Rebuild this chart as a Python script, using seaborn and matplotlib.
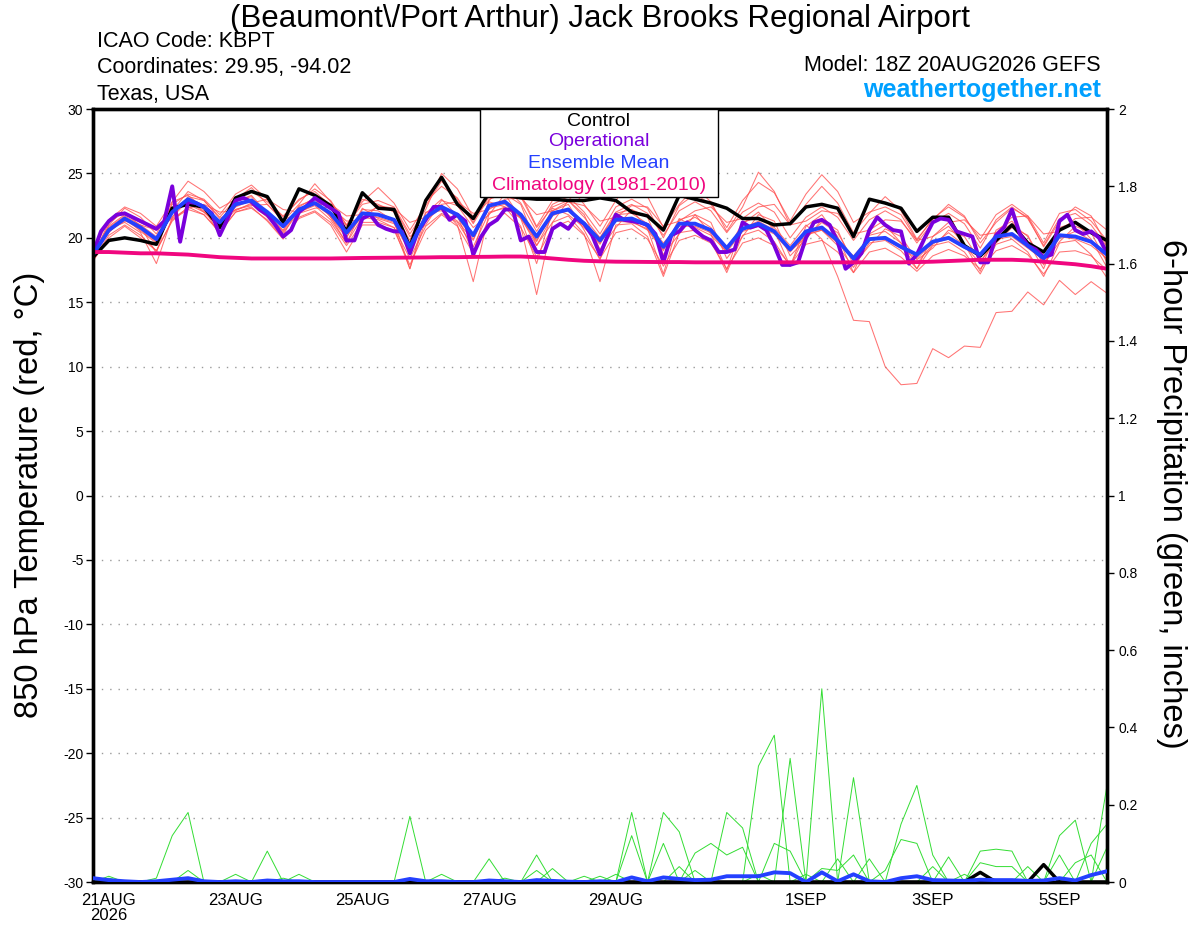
import numpy as np
import pandas as pd
import matplotlib
matplotlib.use("Agg")
import matplotlib.pyplot as plt
import seaborn as sns
from matplotlib.patches import Rectangle

# time axis: 6-hourly GEFS steps, 18Z 20AUG to 18Z 5SEP (operational is 3-hourly)
times = pd.date_range("2026-08-20 18:00", "2026-09-05 18:00", freq="6h")
times_op = pd.date_range("2026-08-20 18:00", "2026-09-05 18:00", freq="3h")

tick_times = pd.to_datetime(["2026-08-21", "2026-08-23", "2026-08-25", "2026-08-27",
                             "2026-08-29", "2026-09-01", "2026-09-03", "2026-09-05"])
tick_labels = ["21AUG\n2026", "23AUG", "25AUG", "27AUG", "29AUG", "1SEP", "3SEP", "5SEP"]

# 850 hPa temperature (C)
control = [
    18.5, 19.8, 20.0, 19.8, 19.5, 22.3, 22.6, 22.4, 20.8, 23.1,
    23.6, 23.2, 21.2, 23.8, 23.3, 22.5, 20.5, 23.5, 22.3, 22.2,
    19.3, 22.9, 24.7, 22.6, 21.5, 23.5, 23.3, 23.1, 23.0, 23.0,
    22.9, 22.9, 23.1, 22.9, 22.0, 21.7, 20.6, 23.3, 23.0, 22.7,
    22.3, 21.5, 21.5, 21.0, 21.1, 22.4, 22.6, 22.3, 20.1, 23.0,
    22.7, 22.3, 20.5, 21.6, 21.6, 19.4, 18.6, 19.8, 21.0, 19.6,
    18.9, 20.6, 21.2, 20.4, 19.8]

ens_mean = [
    18.7, 20.6, 21.5, 20.8, 19.9, 22.0, 23.0, 22.4, 21.2, 22.6,
    22.9, 22.0, 20.9, 22.2, 22.7, 21.9, 20.4, 21.9, 21.8, 21.4,
    19.3, 21.6, 22.4, 21.8, 20.2, 22.5, 22.8, 21.8, 20.1, 21.9,
    22.2, 21.1, 19.8, 21.4, 21.5, 21.0, 19.3, 21.1, 21.1, 20.6,
    19.2, 20.7, 21.1, 20.5, 19.1, 20.5, 20.8, 19.8, 18.4, 19.9,
    20.0, 19.3, 18.7, 19.7, 20.0, 19.3, 18.7, 20.1, 20.3, 19.4,
    18.4, 20.2, 20.1, 19.7, 18.7]

climo = [
    18.9, 18.9, 18.85, 18.8, 18.8, 18.75, 18.7, 18.6, 18.5, 18.45,
    18.4, 18.4, 18.4, 18.4, 18.4, 18.4, 18.42, 18.44, 18.45, 18.46,
    18.47, 18.48, 18.5, 18.5, 18.52, 18.53, 18.55, 18.55, 18.5, 18.4,
    18.3, 18.22, 18.18, 18.15, 18.14, 18.13, 18.12, 18.12, 18.1, 18.1,
    18.1, 18.1, 18.1, 18.1, 18.1, 18.1, 18.1, 18.1, 18.1, 18.1,
    18.1, 18.1, 18.12, 18.15, 18.2, 18.25, 18.3, 18.3, 18.3, 18.25,
    18.15, 18.05, 17.95, 17.8, 17.6]

operational = [
    18.8, 20.5, 21.3, 21.8, 21.9, 21.6, 21.3, 21.0, 20.7, 21.3,
    24.0, 19.7, 22.8, 22.7, 22.4, 21.9, 20.2, 21.5, 22.9, 23.1,
    22.8, 22.2, 21.8, 21.0, 20.1, 20.6, 22.0, 22.5, 23.1, 22.7,
    22.3, 21.9, 19.8,
    19.8, 21.5, 21.8, 21.0, 20.7, 20.5, 20.5, 18.8, 20.5, 21.4,
    22.4, 22.4, 21.4, 21.8, 21.3, 18.7, 20.1, 21.0, 21.4, 22.2,
    22.2, 19.8, 20.1, 18.9, 18.9, 20.7, 21.1, 20.7, 21.5, 21.1,
    20.2, 18.7,
    20.2, 21.8, 21.4, 21.3, 21.2, 21.0, 20.3, 18.1, 20.2, 20.5,
    21.2, 20.6, 20.1, 19.8, 18.9, 18.9, 19.1, 21.2, 20.8, 21.0,
    20.6, 19.4, 17.9, 17.9, 18.1, 20.0, 21.2, 21.4, 21.0, 19.7,
    17.6,
    18.1, 18.8, 20.6, 21.6, 21.0, 20.6, 20.5, 18.0, 18.7, 20.0,
    21.2, 21.5, 21.4, 20.5, 20.3, 20.1, 18.1, 18.1, 20.2, 20.8,
    22.2, 20.3, 19.4, 19.1, 18.5, 18.7, 21.3, 21.8, 20.6, 20.3,
    20.5, 20.0, 18.8]

# ensemble members (red)
m01 = [18.6, 21.0, 22.3, 21.6, 20.3, 22.6, 23.4, 23.0, 21.8, 23.4,
       24.1, 23.0, 21.6, 23.0, 23.6, 22.5, 20.9, 23.0, 22.6, 22.0,
       19.8, 22.8, 24.0, 23.1, 21.2, 23.6, 23.9, 22.7, 20.5, 22.6,
       23.2, 22.0, 20.3, 22.4, 23.0, 22.3, 20.0, 22.5, 23.4, 22.6,
       20.8, 22.9, 24.3, 23.5, 21.3, 23.4, 24.9, 23.6, 21.2, 22.0,
       22.4, 21.8, 19.8, 21.5, 22.4, 21.6, 19.9, 21.8, 22.6, 21.7,
       19.6, 21.9, 22.2, 21.3, 19.8]
m02 = [18.3, 20.2, 21.0, 20.2, 19.0, 21.3, 22.4, 21.8, 20.4, 22.0,
       22.3, 21.4, 20.0, 21.5, 22.0, 21.0, 18.9, 21.0, 21.0, 20.6,
       17.9, 20.6, 21.8, 20.9, 18.8, 21.5, 21.9, 20.8, 18.5, 20.8,
       21.3, 20.2, 18.4, 20.4, 20.7, 19.9, 17.8, 19.8, 20.2, 19.6,
       17.6, 19.6, 20.0, 19.4, 17.9, 19.5, 19.8, 18.9, 17.3, 18.9,
       19.2, 18.5, 17.4, 18.6, 19.1, 18.6, 17.6, 19.0, 19.4, 18.7,
       17.2, 18.9, 19.0, 18.6, 17.5]
m03 = [18.8, 20.9, 21.8, 21.2, 20.6, 21.6, 23.2, 22.9, 21.5, 22.2,
       22.5, 22.6, 21.4, 21.9, 22.3, 22.4, 21.3, 21.4, 22.5, 22.3,
       20.1, 21.0, 22.9, 22.5, 20.8, 21.8, 23.4, 22.6, 19.4, 21.2,
       22.9, 21.8, 19.1, 20.8, 22.2, 21.6, 18.7, 20.3, 21.8, 21.2,
       18.4, 20.1, 21.8, 21.3, 18.6, 19.9, 21.4, 20.6, 17.9, 19.4,
       20.7, 20.1, 18.3, 19.2, 20.6, 20.1, 18.2, 19.6, 20.8, 20.2,
       17.9, 19.7, 20.9, 20.4, 18.1]
m04 = [18.5, 20.4, 21.6, 20.5, 19.6, 22.3, 22.6, 22.0, 21.0, 22.9,
       23.2, 21.7, 20.6, 22.5, 23.0, 21.6, 20.0, 22.3, 21.5, 21.1,
       18.9, 22.0, 22.1, 21.3, 19.8, 22.8, 22.4, 21.5, 19.7, 22.3,
       21.8, 20.8, 19.5, 21.8, 21.3, 20.6, 19.0, 21.5, 20.8, 20.2,
       18.9, 21.2, 21.6, 20.8, 19.4, 21.0, 19.9, 17.0, 13.6, 13.5,
       10.0, 8.6, 8.7, 11.4, 10.7, 11.6, 11.5, 14.2, 14.3, 15.8,
       14.8, 16.7, 15.6, 16.6, 15.7]
m05 = [19.0, 21.4, 22.4, 21.9, 20.9, 22.8, 24.4, 23.6, 22.3, 23.0,
       23.6, 22.8, 21.7, 22.9, 23.8, 22.9, 21.0, 22.6, 22.9, 22.4,
       20.3, 22.2, 25.0, 23.8, 21.6, 22.9, 24.2, 23.2, 20.8, 22.4,
       22.9, 21.6, 20.0, 21.8, 21.9, 21.1, 19.6, 21.0, 21.6, 20.8,
       19.0, 20.7, 21.3, 20.6, 19.0, 20.0, 21.2, 20.4, 18.2, 20.2,
       20.5, 19.6, 18.0, 19.5, 20.4, 19.4, 18.0, 20.3, 21.1, 20.1,
       18.0, 20.0, 20.5, 19.8, 18.3]
m06 = [18.2, 20.0, 20.9, 20.0, 19.0, 21.4, 22.2, 21.8, 20.5, 22.0,
       22.4, 21.3, 19.9, 21.6, 22.1, 21.2, 19.4, 21.2, 21.2, 20.8,
       18.4, 20.9, 21.9, 21.2, 19.3, 22.0, 22.3, 21.6, 19.4, 21.7,
       22.3, 21.2, 20.0, 22.0, 22.6, 21.9, 20.2, 22.1, 22.8, 22.1,
       20.4, 22.0, 22.7, 22.0, 20.0, 21.6, 22.4, 21.6, 19.8, 21.4,
       22.1, 21.4, 19.6, 21.2, 21.9, 21.1, 19.2, 21.4, 22.4, 21.5,
       19.4, 21.5, 21.9, 21.0, 19.3]
m07 = [18.6, 21.2, 22.0, 20.9, 18.8, 22.8, 23.3, 22.3, 20.2, 22.8,
       23.3, 21.9, 20.2, 22.4, 23.1, 21.6, 19.6, 22.2, 22.1, 21.3,
       17.6, 21.9, 23.0, 21.7, 18.8, 23.0, 23.4, 21.5, 18.0, 22.1,
       22.6, 20.6, 18.3, 21.9, 22.2, 20.7, 17.2, 21.4, 21.8, 20.3,
       17.5, 21.1, 22.0, 20.6, 17.8, 20.9, 21.8, 20.1, 17.3, 20.3,
       21.0, 19.6, 17.6, 20.1, 20.9, 19.5, 17.4, 20.6, 21.3, 19.7,
       17.6, 20.8, 21.2, 19.9, 17.7]
m08 = [18.9, 20.5, 21.3, 21.0, 20.6, 21.5, 22.3, 22.6, 22.0, 22.1,
       22.7, 23.0, 22.2, 22.0, 22.6, 22.6, 21.7, 21.8, 22.4, 22.3,
       21.2, 21.6, 22.6, 22.8, 21.9, 22.2, 23.0, 23.1, 21.8, 22.1,
       22.8, 22.5, 21.3, 21.6, 22.5, 22.4, 20.9, 21.3, 22.1, 22.4,
       21.2, 21.5, 22.4, 22.6, 21.0, 21.3, 22.1, 21.9, 20.3, 20.6,
       21.4, 21.3, 19.8, 20.1, 21.2, 21.4, 20.2, 20.4, 21.6, 21.7,
       20.3, 20.5, 21.5, 21.6, 20.6]
m09 = [18.4, 20.7, 21.2, 20.4, 18.0, 21.6, 22.9, 22.0, 20.8, 22.2,
       22.6, 21.6, 20.4, 22.0, 22.5, 21.4, 19.6, 21.6, 21.4, 20.8,
       17.6, 21.4, 22.3, 21.0, 16.6, 21.9, 22.4, 20.9, 15.6, 21.2,
       21.7, 20.3, 16.6, 21.0, 21.1, 20.1, 17.0, 20.4, 20.6, 19.8,
       17.3, 20.2, 20.6, 19.7, 17.8, 20.3, 20.6, 19.4, 17.7, 19.6,
       19.8, 19.0, 17.6, 19.4, 19.7, 18.9, 17.2, 19.5, 19.9, 18.9,
       17.0, 19.6, 19.8, 18.7, 16.9]
m10 = [18.7, 20.8, 21.7, 21.0, 20.1, 22.1, 23.6, 22.9, 21.6, 23.0,
       23.9, 22.6, 21.3, 22.6, 24.2, 22.8, 21.0, 22.8, 23.9, 22.7,
       20.6, 22.5, 24.4, 23.0, 21.1, 23.2, 24.8, 23.4, 20.9, 22.9,
       24.1, 22.6, 20.9, 22.9, 24.6, 23.2, 20.8, 22.6, 23.9, 22.8,
       20.5, 22.4, 25.1, 23.6, 21.0, 22.6, 24.0, 22.7, 20.4, 21.9,
       23.2, 22.1, 19.9, 21.4, 22.6, 21.7, 19.6, 21.2, 22.3, 21.6,
       19.3, 21.3, 22.4, 21.7, 19.4]
m11 = [18.8, 20.6, 21.4, 20.6, 19.7, 22.1, 22.9, 22.1, 21.0, 22.4,
       22.9, 21.9, 20.5, 22.3, 22.6, 21.7, 20.1, 21.7, 21.6, 21.2,
       19.0, 21.5, 22.4, 21.6, 19.9, 22.3, 22.6, 21.6, 19.8, 21.8,
       22.1, 20.9, 19.6, 21.3, 21.2, 20.7, 19.1, 20.9, 20.9, 20.4,
       18.9, 20.5, 20.9, 20.3, 18.9, 20.2, 20.6, 19.6, 18.6, 20.0,
       19.9, 19.2, 18.4, 19.6, 19.9, 19.2, 18.5, 19.9, 20.1, 19.2,
       18.3, 20.1, 19.9, 19.4, 18.4]
members = [m01, m02, m03, m04, m05, m06, m07, m08, m09, m10, m11]

# 6-hour precipitation (inches)
precip_mean = [
    0.010, 0.005, 0.002, 0.000, 0.002, 0.006, 0.010, 0.002, 0.000, 0.002,
    0.000, 0.004, 0.002, 0.002, 0.000, 0.000, 0.000, 0.000, 0.000, 0.000,
    0.008, 0.002, 0.002, 0.000, 0.000, 0.004, 0.002, 0.000, 0.005, 0.003,
    0.001, 0.000, 0.002, 0.000, 0.012, 0.002, 0.012, 0.008, 0.005, 0.006,
    0.015, 0.015, 0.015, 0.025, 0.023, 0.000, 0.025, 0.002, 0.020, 0.002,
    0.000, 0.010, 0.015, 0.005, 0.004, 0.003, 0.006, 0.005, 0.005, 0.003,
    0.004, 0.010, 0.004, 0.018, 0.028]
# members are dry most of the time: (step, amount) for the wet steps only
precip_control_wet = [(56, 0.025), (60, 0.045)]
p01_wet = [(4, 0.01), (5, 0.12), (6, 0.18), (34, 0.18), (42, 0.30), (43, 0.38),
           (51, 0.15), (52, 0.25), (53, 0.07)]
p02_wet = [(1, 0.015), (6, 0.03), (11, 0.08), (20, 0.17), (28, 0.07), (36, 0.18),
           (37, 0.13), (44, 0.32), (46, 0.50), (64, 0.25)]
p03_wet = [(9, 0.02), (13, 0.02), (25, 0.06), (34, 0.12), (40, 0.18), (41, 0.14),
           (48, 0.27), (56, 0.08), (57, 0.085), (58, 0.08), (61, 0.12), (62, 0.16), (64, 0.09)]
p04_wet = [(12, 0.01), (22, 0.02), (29, 0.035), (32, 0.015), (36, 0.10), (38, 0.075),
           (39, 0.10), (40, 0.07), (41, 0.09), (49, 0.06), (56, 0.05), (57, 0.04),
           (58, 0.04), (61, 0.07)]
p05_wet = [(28, 0.03), (37, 0.04), (43, 0.10), (44, 0.08), (46, 0.035), (47, 0.03),
           (48, 0.07), (50, 0.03), (51, 0.11), (52, 0.10), (54, 0.065), (63, 0.10), (64, 0.15)]
p06_wet = [(1, 0.01), (26, 0.01), (31, 0.015), (33, 0.02), (38, 0.03), (42, 0.02),
           (45, 0.02), (47, 0.06), (53, 0.04), (55, 0.02), (59, 0.04), (62, 0.05), (63, 0.07)]
precip_members_wet = [p01_wet, p02_wet, p03_wet, p04_wet, p05_wet, p06_wet]

for s in members + [control, ens_mean, climo, precip_mean]:
    assert len(s) == len(times), len(s)
assert len(operational) == len(times_op), len(operational)


def fill_steps(wet):
    v = np.zeros(len(times))
    for i, amt in wet:
        v[i] = amt
    return v


def draw(ax, x, y, **kw):
    sns.lineplot(x=x, y=y, ax=ax, estimator=None, sort=False, legend=False, **kw)


sns.set_style("white")
plt.rcParams["font.family"] = ["Liberation Sans", "DejaVu Sans"]
plt.rcParams["text.color"] = "black"
plt.rcParams["xtick.color"] = "black"
plt.rcParams["ytick.color"] = "black"
plt.rcParams["axes.labelcolor"] = "black"

fig = plt.figure(figsize=(12, 9.27), dpi=100)
ax = fig.add_axes([0.0775, 0.0485, 0.845, 0.8339])

# temperature
for m in members:
    draw(ax, times, m, color="#ff5050", lw=0.75, alpha=0.8, zorder=2)
draw(ax, times, control, color="black", lw=2.5, zorder=3)
draw(ax, times_op, operational, color="#7a00dc", lw=2.8, zorder=4)
draw(ax, times, ens_mean, color="#2440ff", lw=2.8, zorder=5)
draw(ax, times, climo, color="#f0067f", lw=2.8, zorder=6)

ax.set_ylim(-30, 30)
ax.set_yticks(range(-30, 31, 5))
ax.set_yticklabels([str(v) for v in range(-30, 31, 5)])
ax.yaxis.grid(True, linestyle=(0, (1, 5)), color="#9a9a9a", lw=1)
ax.set_axisbelow(True)
ax.set_xticks(tick_times)
ax.set_xticklabels(tick_labels, fontsize=12, linespacing=1.0)
ax.tick_params(axis="y", direction="out", length=5, width=1, labelsize=10, pad=2)
ax.tick_params(axis="x", direction="out", length=5, width=1, pad=3)
ax.set_xlabel("")
ax.set_ylabel("")

# precipitation on the right axis
ax2 = ax.twinx()
for wet in precip_members_wet:
    draw(ax2, times, fill_steps(wet), color="#33dd33", lw=0.7, zorder=2)
draw(ax2, times, fill_steps(precip_control_wet), color="black", lw=2.5, zorder=3)
draw(ax2, times, precip_mean, color="#2440ff", lw=2.8, zorder=4)
ax2.set_ylim(0, 2)
rt = np.round(np.arange(0, 2.01, 0.2), 1)
ax2.set_yticks(rt)
ax2.set_yticklabels([f"{v:g}" for v in rt])
ax2.tick_params(axis="y", direction="out", length=5, width=1, labelsize=10, pad=3)
ax2.set_ylabel("")
ax.set_xlim(times[0], times[-1])

for a in (ax, ax2):
    for sp in a.spines.values():
        sp.set_linewidth(2.4)
        sp.set_color("black")

# legend box over the top of the plot
fig.add_artist(Rectangle((0.3817, 0.886), 0.2347, 0.114, transform=ax.transAxes,
                         fc="white", ec="black", lw=1, zorder=5))
leg_items = [("Control", "black", 121), ("Operational", "#7a00dc", 142),
             ("Ensemble Mean", "#2440ff", 163), ("Climatology (1981-2010)", "#f0067f", 185)]
for txt, col, ypx in leg_items:
    fig.text(599 / 1200, 1 - ypx / 927, txt, color=col, fontsize=14,
             ha="center", va="center", zorder=6)

# titles and header text (positioned by baseline)
fig.text(0.5, 1 - 27 / 927, "(Beaumont\\/Port Arthur) Jack Brooks Regional Airport",
         fontsize=22.5, ha="center", va="baseline")
fig.text(97 / 1200, 1 - 47 / 927, "ICAO Code: KBPT", fontsize=15.5, ha="left", va="baseline")
fig.text(97 / 1200, 1 - 73 / 927, "Coordinates: 29.95, -94.02", fontsize=15.5, ha="left", va="baseline")
fig.text(97 / 1200, 1 - 100 / 927, "Texas, USA", fontsize=15.5, ha="left", va="baseline")
fig.text(1101 / 1200, 1 - 71 / 927, "Model: 18Z 20AUG2026 GEFS", fontsize=15.5, ha="right", va="baseline")
fig.text(1101 / 1200, 1 - 97 / 927, "weathertogether.net", fontsize=18, fontweight="bold",
         color="#00a0ff", ha="right", va="baseline")
fig.text(30 / 1200, 1 - 495 / 927, "850 hPa Temperature (red, \u00b0C)", fontsize=23.5,
         rotation=90, ha="center", va="center")
fig.text(1172 / 1200, 1 - 494 / 927, "6-hour Precipitation (green, inches)", fontsize=23.5,
         rotation=-90, ha="center", va="center")

fig.savefig("out.png", dpi=100)
